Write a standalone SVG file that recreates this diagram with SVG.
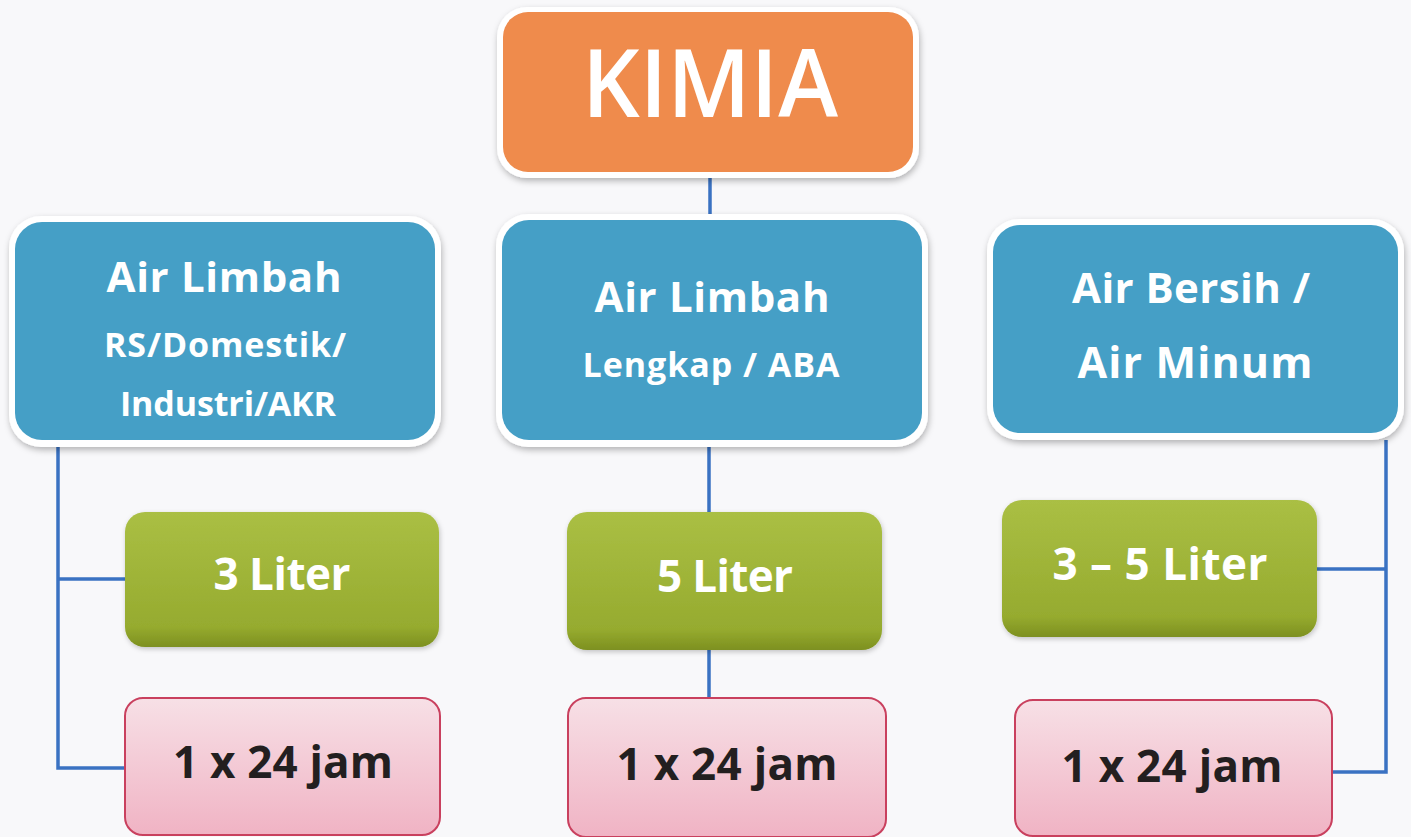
<svg xmlns="http://www.w3.org/2000/svg" width="1411" height="837" viewBox="0 0 1411 837">
  <defs>
    <filter id="sh" x="-10%" y="-10%" width="120%" height="125%">
      <feDropShadow dx="1" dy="3" stdDeviation="3" flood-color="#000" flood-opacity="0.28"/>
    </filter>
    <filter id="shs" x="-10%" y="-10%" width="120%" height="125%">
      <feDropShadow dx="1" dy="2" stdDeviation="2.5" flood-color="#000" flood-opacity="0.22"/>
    </filter>
    <linearGradient id="gGreen" x1="0" y1="0" x2="0" y2="1">
      <stop offset="0" stop-color="#aabf44"/>
      <stop offset="0.85" stop-color="#96ab2f"/>
      <stop offset="1" stop-color="#7d9020"/>
    </linearGradient>
    <linearGradient id="gPink" x1="0" y1="0" x2="0" y2="1">
      <stop offset="0" stop-color="#f7e0e6"/>
      <stop offset="1" stop-color="#f0b3c4"/>
    </linearGradient>
    <style>
      .frame { fill: #ffffff; }
      .orange { fill: #ef8b4c; }
      .blue { fill: #459fc6; }
      .green { fill: url(#gGreen); }
      .pink { fill: url(#gPink); stroke: #c9405e; stroke-width: 2; }
      .conn { fill: none; stroke: #3a72c2; stroke-width: 3.5; }
      .t { font-family: "Open Sans", "Noto Sans", "Liberation Sans", sans-serif; font-weight: 700; text-anchor: middle; fill: #ffffff; }
      .big { font-family: "Open Sans", "Noto Sans", "Liberation Sans", sans-serif; font-weight: 600; text-anchor: middle; fill: #ffffff; font-size: 94px; }
      .dark { fill: #231f20; }
    </style>
  </defs>

  <rect x="0" y="0" width="1411" height="837" fill="#f8f8fa"/>

  <g id="connectors">
    <path class="conn" d="M710 176 V216"/>
    <path class="conn" d="M709 447 V512"/>
    <path class="conn" d="M709 650 V698"/>
    <path class="conn" d="M58 447 V768 H125"/>
    <path class="conn" d="M58 579 H125"/>
    <path class="conn" d="M1386 440 V772 H1332"/>
    <path class="conn" d="M1317 569 H1386"/>
  </g>

  <g id="kimia">
    <rect class="frame" x="497" y="7" width="422" height="171" rx="30" filter="url(#sh)"/>
    <rect class="orange" x="503" y="12" width="410" height="160" rx="25"/>
    <text class="big" x="710" y="117" textLength="256" lengthAdjust="spacingAndGlyphs">KIMIA</text>
  </g>

  <g id="limbah-rs">
    <rect class="frame" x="9" y="216" width="432" height="231" rx="32" filter="url(#sh)"/>
    <rect class="blue" x="15" y="222" width="420" height="218" rx="27"/>
    <text class="t" x="224" y="292" font-size="42" textLength="235">Air Limbah</text>
    <text class="t" x="225" y="357" font-size="34" textLength="242">RS/Domestik/</text>
    <text class="t" x="228" y="416" font-size="34" textLength="216">Industri/AKR</text>
  </g>

  <g id="limbah-lengkap">
    <rect class="frame" x="496" y="214" width="432" height="233" rx="32" filter="url(#sh)"/>
    <rect class="blue" x="502" y="220" width="420" height="220" rx="27"/>
    <text class="t" x="712" y="312" font-size="42" textLength="235">Air Limbah</text>
    <text class="t" x="711" y="377" font-size="34" textLength="257">Lengkap / ABA</text>
  </g>

  <g id="air-bersih">
    <rect class="frame" x="987" y="219" width="417" height="221" rx="32" filter="url(#sh)"/>
    <rect class="blue" x="993" y="225" width="405" height="208" rx="27"/>
    <text class="t" x="1191" y="303" font-size="42" textLength="238">Air Bersih /</text>
    <text class="t" x="1195" y="378" font-size="43" textLength="235">Air Minum</text>
  </g>

  <g id="liter-3">
    <rect class="green" x="125" y="512" width="314" height="135" rx="20" filter="url(#shs)"/>
    <text class="t" x="282" y="590" font-size="44" textLength="137">3 Liter</text>
  </g>

  <g id="liter-5">
    <rect class="green" x="567" y="512" width="315" height="138" rx="20" filter="url(#shs)"/>
    <text class="t" x="725" y="592" font-size="44" textLength="136">5 Liter</text>
  </g>

  <g id="liter-3-5">
    <rect class="green" x="1002" y="500" width="315" height="137" rx="20" filter="url(#shs)"/>
    <text class="t" x="1160" y="580" font-size="44" textLength="215">3 – 5 Liter</text>
  </g>

  <g id="jam-1">
    <rect class="pink" x="125" y="698" width="315" height="137" rx="18"/>
    <text class="t dark" x="283" y="778" font-size="44" textLength="220">1 x 24 jam</text>
  </g>

  <g id="jam-2">
    <rect class="pink" x="568" y="698" width="318" height="139" rx="18"/>
    <text class="t dark" x="727" y="780" font-size="44" textLength="221">1 x 24 jam</text>
  </g>

  <g id="jam-3">
    <rect class="pink" x="1015" y="700" width="317" height="136" rx="18"/>
    <text class="t dark" x="1172" y="782" font-size="44" textLength="221">1 x 24 jam</text>
  </g>
</svg>
